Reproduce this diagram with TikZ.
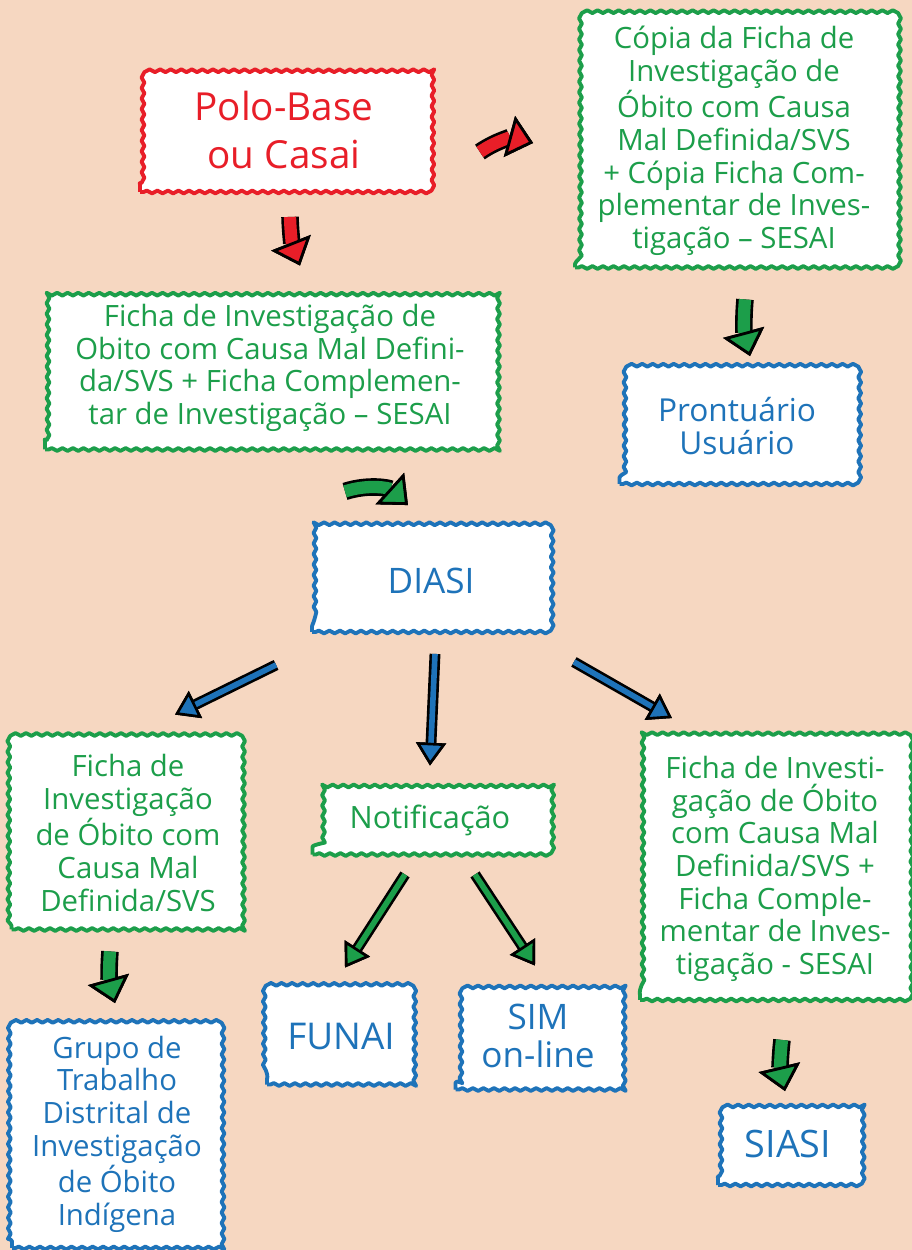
\documentclass[tikz,border=0pt]{standalone}
\usepackage{fontspec}
\setmainfont{Open Sans}
\usetikzlibrary{arrows.meta,decorations.pathmorphing}
\definecolor{fundo}{RGB}{246,215,193}
\definecolor{vermelho}{RGB}{232,30,40}
\definecolor{verde}{RGB}{28,158,74}
\definecolor{azul}{RGB}{30,115,185}
\tikzset{
caixa/.style={draw=#1,text=#1,fill=white,line width=2.2pt,align=center,inner sep=0pt,
  decorate,decoration={snake,segment length=6pt,amplitude=0.8pt,pre length=2pt,post length=2pt},
  font=\fontsize{16.7}{18.6}\selectfont},
seta/.style={draw=#1,line width=7pt,
  -{Triangle[length=14pt,width=24pt,color=black,fill=#1,line width=1.6pt]},
  preaction={draw=black,line width=10pt}},
setafina/.style={draw=#1,line width=3.2pt,
  -{Triangle[length=13pt,width=17pt,color=black,fill=#1,line width=1.5pt]},
  preaction={draw=black,line width=6.2pt}}
}
\begin{document}
\begin{tikzpicture}[x=0.02cm,y=-0.02cm,line join=round]
\useasboundingbox (0,0) rectangle (912,1250);
\fill[fundo] (0,0) rectangle (912,1250);

\node[caixa=vermelho,minimum width=5.76cm,minimum height=2.48cm,font=\fontsize{22}{27}\selectfont] (polo) at (284,130) {Polo-Base\\ou Casai};
\node[caixa=verde,minimum width=6.36cm,minimum height=5.06cm] (copia) at (734,141) {Cópia da Ficha de\\Investigação de\\Óbito com Causa\\Mal Definida/SVS\\+ Cópia Ficha Com-\\plementar de Inves-\\tigação -- SESAI};
\node[caixa=verde,minimum width=9cm,minimum height=3.26cm] (ficha) at (270,368) {Ficha de Investigação de\\Obito com Causa Mal Defini-\\da/SVS + Ficha Complemen-\\tar de Investigação -- SESAI};
\node[caixa=azul,minimum width=4.7cm,minimum height=2.32cm,font=\fontsize{18}{18.6}\selectfont] (prontuario) at (737,426) {Prontuário\\Usuário};
\node[caixa=azul,minimum width=4.76cm,minimum height=2.04cm,font=\fontsize{20}{22}\selectfont] (diasi) at (431,581) {DIASI};
\node[caixa=verde,minimum width=4.66cm,minimum height=3.86cm] (fichaesq) at (128,833) {Ficha de\\Investigação\\de Óbito com\\Causa Mal\\Definida/SVS};
\node[caixa=verde,minimum width=4.7cm,minimum height=1.38cm,font=\fontsize{17.5}{20}\selectfont] (notif) at (430,820) {Notificação};
\node[caixa=verde,minimum width=5.4cm,minimum height=5.24cm] (fichadir) at (775,869) {Ficha de Investi-\\gação de Óbito\\com Causa Mal\\Definida/SVS +\\Ficha Comple-\\mentar de Inves-\\tigação - SESAI};
\node[caixa=azul,minimum width=4.2cm,minimum height=4.56cm] (grupo) at (117,1134) {Grupo de\\Trabalho\\Distrital de\\Investigação\\de Óbito\\Indígena};
\node[caixa=azul,minimum width=2.96cm,minimum height=1.94cm,font=\fontsize{21}{24}\selectfont] (funai) at (341,1036) {FUNAI};
\node[caixa=azul,minimum width=3.3cm,minimum height=2.14cm,font=\fontsize{20}{22}\selectfont] (sim) at (538,1036) {SIM\\on-line};
\node[caixa=azul,minimum width=2.8cm,minimum height=1.64cm,font=\fontsize{21.5}{24}\selectfont] (siasi) at (788,1144) {SIASI};

% setas
\draw[seta=vermelho] ([shift={(50,22)}]polo.east) to[bend left=25] ([shift={(-40,2)}]copia.west);
\draw[seta=vermelho] ([shift={(6,23)}]polo.south) to[bend right=10] ([shift={(30,-19)}]ficha.north);
\draw[seta=verde] ([shift={(11,30)}]copia.south) to[bend right=10] ([shift={(13,-10)}]prontuario.north);
\draw[seta=verde] ([shift={(75,40)}]ficha.south) to[bend left=30] ([shift={(-23,-23)}]diasi.north);
\draw[setafina=azul] ([shift={(-34,31)}]diasi.south west) -- ([shift={(47,-20)}]fichaesq.north);
\draw[setafina=azul] ([shift={(4,20)}]diasi.south) -- ([shift={(0,-18)}]notif.north);
\draw[setafina=azul] ([shift={(22,28)}]diasi.south east) -- ([shift={(-103,-18)}]fichadir.north);
\draw[setafina=verde] ([shift={(-25,18)}]notif.south) -- ([shift={(4,-18)}]funai.north);
\draw[setafina=verde] ([shift={(45,18)}]notif.south) -- ([shift={(-3,-15)}]sim.north);
\draw[seta=verde] ([shift={(-18,20)}]fichaesq.south) to[bend right=10] ([shift={(-2,-15)}]grupo.north);
\draw[seta=verde] ([shift={(7,38)}]fichadir.south) to[bend right=10] ([shift={(-3,-10)}]siasi.north);

\end{tikzpicture}
\end{document}
